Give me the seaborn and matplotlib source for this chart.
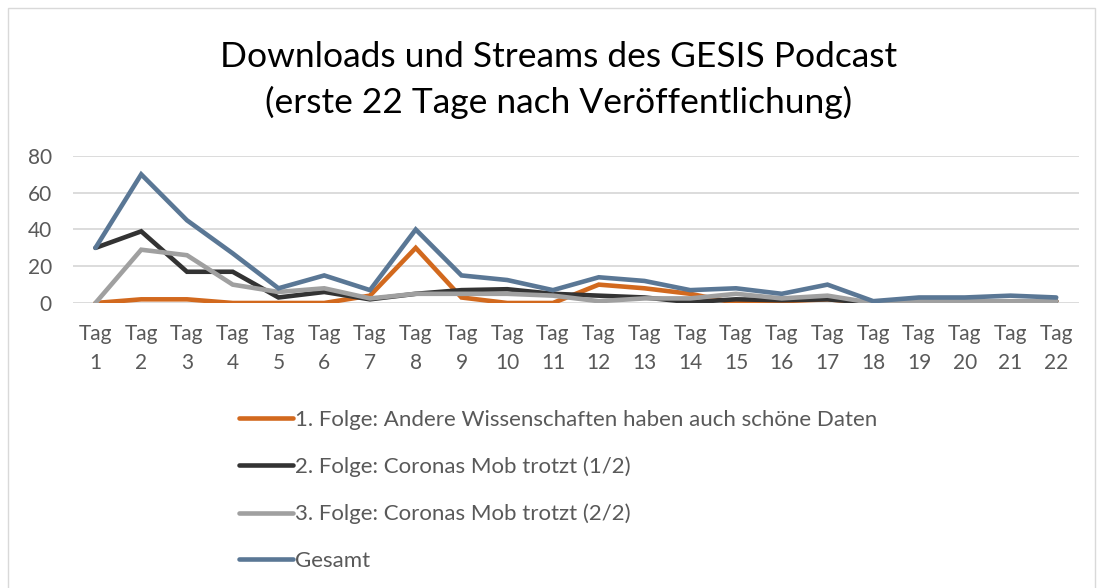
import matplotlib
matplotlib.use("Agg")
import matplotlib.pyplot as plt
import seaborn as sns
import pandas as pd
from matplotlib.patches import Rectangle

days = list(range(1, 23))
tick_labels = [f"Tag\n{d}" for d in days]

folge1 = [0, 2, 2, 0, 0, 0, 4, 30, 3, 0, 0, 10, 8, 5, 0, 1, 2, 0, 0, 0, 0, 1]
folge2 = [30, 39, 17, 17, 3, 6, 2, 5, 7, 7.5, 5, 4, 3, 0.5, 2, 1.5, 2, 0, 0, 0, 0.5, 1]
folge3 = [0, 29, 26, 10, 6, 8, 2.5, 5, 5, 5, 4, 1, 2.5, 2.5, 5, 2.5, 4, 0, 1, 1, 1, 1]
gesamt = [30, 70, 45, 27, 8, 15, 7, 40, 15, 12.5, 7, 14, 12, 7, 8, 5, 10, 1, 3, 3, 4, 3]

series_names = [
    "1. Folge: Andere Wissenschaften haben auch schöne Daten",
    "2. Folge: Coronas Mob trotzt (1/2)",
    "3. Folge: Coronas Mob trotzt (2/2)",
    "Gesamt",
]
colors = ["#D2691E", "#333333", "#A0A0A0", "#5A7795"]

rows = []
for name, vals in zip(series_names, [folge1, folge2, folge3, gesamt]):
    for d, v in zip(days, vals):
        rows.append({"Tag": d, "Wert": v, "Serie": name})
df = pd.DataFrame(rows)

sns.set_style("white")
plt.rcParams["font.family"] = ["Lato", "DejaVu Sans"]

fig = plt.figure(figsize=(11, 5.88), dpi=100)
ax = fig.add_axes([0.066, 0.4847, 0.915, 0.25])

sns.lineplot(
    data=df, x="Tag", y="Wert", hue="Serie", hue_order=series_names,
    palette=colors, linewidth=3.3, ax=ax, legend=False,
)
for line in ax.get_lines():
    line.set_solid_capstyle("round")
    line.set_solid_joinstyle("miter")

ax.set_xlim(0.5, 22.5)
ax.set_ylim(0, 80)
ax.set_yticks([0, 20, 40, 60, 80])
ax.set_xticks(days)
ax.set_xticklabels(tick_labels, fontsize=15, color="#595959", linespacing=1.55)
ax.tick_params(axis="y", labelsize=15, labelcolor="#595959", length=0, pad=15)
ax.tick_params(axis="x", length=0, pad=15)
ax.set_xlabel("")
ax.set_ylabel("")
ax.grid(axis="y", color="#D9D9D9", linewidth=1.3)
ax.set_axisbelow(True)
for s in ax.spines.values():
    s.set_visible(False)

fig.text(0.508, 0.903, "Downloads und Streams des GESIS Podcast", ha="center",
         va="center", fontsize=25.5, color="#000000")
fig.text(0.508, 0.826, "(erste 22 Tage nach Veröffentlichung)", ha="center",
         va="center", fontsize=25.5, color="#000000")

handles = [plt.Line2D([0], [0], color=c, linewidth=3.3, solid_capstyle="round")
           for c in colors]
leg = fig.legend(handles, series_names, loc="upper left",
                 bbox_to_anchor=(0.209, 0.318), frameon=False, fontsize=16,
                 handlelength=2.45, handletextpad=0.1, labelspacing=1.2,
                 borderaxespad=0)
for t in leg.get_texts():
    t.set_color("#595959")

fig.patches.append(Rectangle((0.007, -0.01), 0.988, 0.997, transform=fig.transFigure,
                             fill=False, edgecolor="#D9D9D9", linewidth=1))

fig.savefig("out.png", dpi=100)
